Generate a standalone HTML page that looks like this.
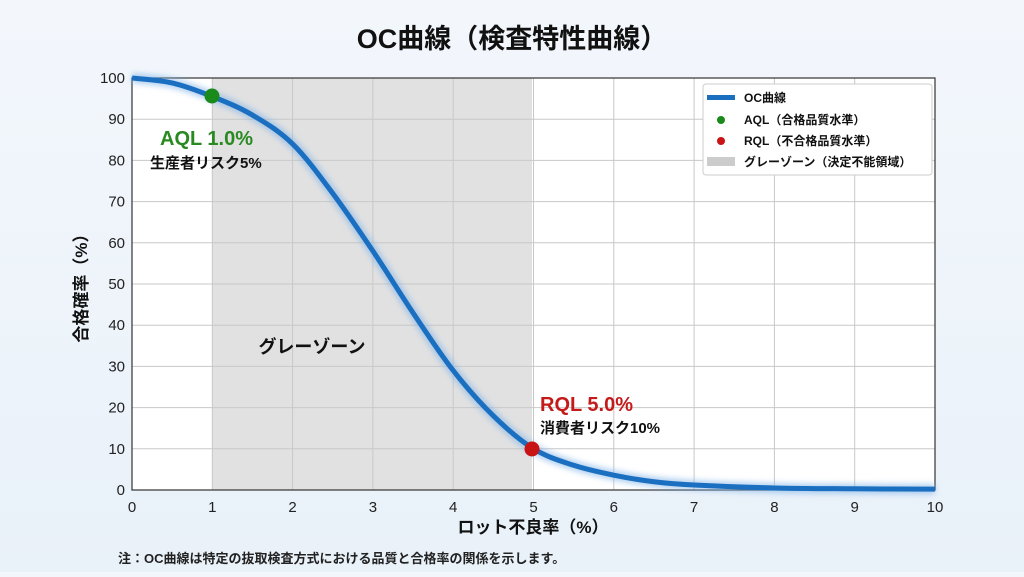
<!DOCTYPE html>
<html><head><meta charset="utf-8"><style>
body{margin:0;width:1024px;height:572px;overflow:hidden;background:linear-gradient(#f3f7fc,#e9f1f9);font-family:"Liberation Sans","Noto Sans CJK JP",sans-serif;}
svg text{font-family:"Liberation Sans","Noto Sans CJK JP",sans-serif;}
</style></head><body>
<svg id="s" width="1024" height="572" xmlns="http://www.w3.org/2000/svg">
<defs><filter id="g" x="-10%" y="-10%" width="120%" height="120%"><feGaussianBlur stdDeviation="3"/></filter></defs>
<text x="512" y="48" text-anchor="middle" font-size="27" font-weight="bold" fill="#111">OC曲線（検査特性曲線）</text>
<rect x="132" y="78" width="803" height="412" fill="#fff"/>
<rect x="212" y="78" width="320" height="412" fill="#e1e1e1"/>
<g id="grid" stroke="#c8c8c8" stroke-width="1"></g>
<rect x="132" y="78" width="803" height="412" fill="none" stroke="#333" stroke-width="1.2"/>
<g id="ticks" font-size="15" fill="#222"></g>
<path id="glow" fill="none" stroke="#7fb2e8" stroke-width="10" opacity="0.6" filter="url(#g)"/>
<path id="curve" fill="none" stroke="#1a6fc0" stroke-width="5"/>
<circle cx="212" cy="96" r="7.5" fill="#1a8a1a"/>
<circle cx="532" cy="449" r="7.5" fill="#c81414"/>
<text x="160" y="145" font-size="20" font-weight="bold" fill="#2a8a22">AQL 1.0%</text>
<text x="150" y="168" font-size="15" font-weight="bold" fill="#111">生産者リスク5%</text>
<text x="540" y="411" font-size="20" font-weight="bold" fill="#c41a1a">RQL 5.0%</text>
<text x="540" y="433" font-size="15" font-weight="bold" fill="#111">消費者リスク10%</text>
<text x="312" y="353" text-anchor="middle" font-size="18" font-weight="bold" fill="#111">グレーゾーン</text>
<text x="533" y="533" text-anchor="middle" font-size="17" font-weight="bold" fill="#111">ロット不良率（%）</text>
<text transform="translate(87,284) rotate(-90)" text-anchor="middle" font-size="17" font-weight="bold" fill="#111">合格確率（%）</text>
<text x="118" y="563" font-size="13" font-weight="bold" fill="#222">注：OC曲線は特定の抜取検査方式における品質と合格率の関係を示します。</text>
<g>
<rect x="703" y="84" width="229" height="91" rx="3" fill="#fff" stroke="#ccc"/>
<rect x="707" y="95" width="28" height="5" fill="#1a6fc0"/>
<text x="744" y="102" font-size="12" font-weight="bold" fill="#111">OC曲線</text>
<circle cx="721" cy="120" r="4" fill="#1a8a1a"/>
<text x="744" y="124" font-size="12" font-weight="bold" fill="#111">AQL（合格品質水準）</text>
<circle cx="721" cy="141" r="4" fill="#c81414"/>
<text x="744" y="145" font-size="12" font-weight="bold" fill="#111">RQL（不合格品質水準）</text>
<rect x="707" y="157" width="28" height="9" fill="#ccc"/>
<text x="744" y="166" font-size="12" font-weight="bold" fill="#111">グレーゾーン（決定不能領域）</text>
</g>
</svg>
<script>
var X=v=>132+v*80.3,Y=v=>490-v*4.12,ns="http://www.w3.org/2000/svg";
var gr=document.getElementById('grid'),tk=document.getElementById('ticks');
function el(p,t,a){var e=document.createElementNS(ns,t);for(var k in a)e.setAttribute(k,a[k]);p.appendChild(e);return e;}
for(var i=0;i<=10;i++){el(gr,'line',{x1:X(i),x2:X(i),y1:78,y2:490});var t=el(tk,'text',{x:X(i),y:512,'text-anchor':'middle'});t.textContent=i;}
for(var j=0;j<=100;j+=10){el(gr,'line',{x1:132,x2:935,y1:Y(j),y2:Y(j)});var t=el(tk,'text',{x:125,y:Y(j)+5,'text-anchor':'end'});t.textContent=j;}
var P=[[0,100],[0.5,98.8],[1,95.5],[1.5,91],[2,84],[2.5,72],[3,58],[3.5,43],[4,29],[4.5,18],[5,10],[5.5,6],[6,3.6],[6.5,2],[7,1.2],[8,0.5],[9,0.3],[10,0.2]].map(p=>[X(p[0]),Y(p[1])]);
var d="M"+P[0];
for(var i=0;i<P.length-1;i++){var p0=P[i-1]||P[i],p1=P[i],p2=P[i+1],p3=P[i+2]||p2;
d+=" C"+(p1[0]+(p2[0]-p0[0])/6)+","+(p1[1]+(p2[1]-p0[1])/6)+" "+(p2[0]-(p3[0]-p1[0])/6)+","+(p2[1]-(p3[1]-p1[1])/6)+" "+p2;}
document.getElementById('curve').setAttribute('d',d);document.getElementById('glow').setAttribute('d',d);
</script>
</body></html>
